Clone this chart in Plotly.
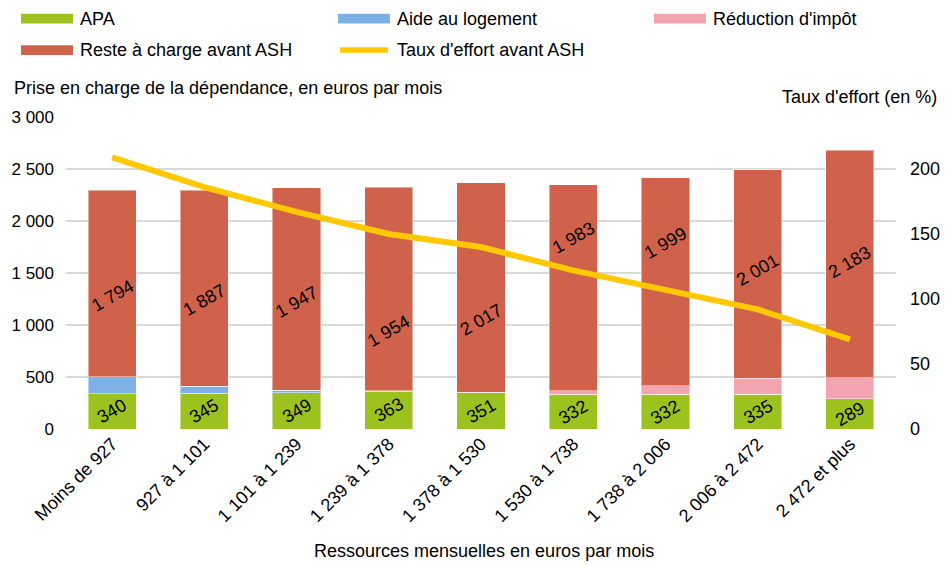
import plotly.graph_objects as go

categories = ["Moins de 927", "927 à 1 101", "1 101 à 1 239", "1 239 à 1 378",
              "1 378 à 1 530", "1 530 à 1 738", "1 738 à 2 006", "2 006 à 2 472",
              "2 472 et plus"]
apa = [340, 345, 349, 363, 351, 332, 332, 335, 289]
aide_logement = [162, 65, 25, 7, 0, 0, 0, 0, 0]
reduction_impot = [0, 0, 0, 0, 2, 35, 83, 155, 206]
reste_charge = [1794, 1887, 1947, 1954, 2017, 1983, 1999, 2001, 2183]
taux_effort = [209, 186, 167, 150, 140, 122, 107, 92, 69]

series_names = ["APA", "Aide au logement", "Réduction d'impôt",
                "Reste à charge avant ASH", "Taux d'effort avant ASH"]
left_ticks = [0, 500, 1000, 1500, 2000, 2500, 3000]
right_ticks = [0, 50, 100, 150, 200]

# label vertical nudges (px) for the "reste à charge" labels, as placed in the source
reste_label_shift = [-12, -12, -13, -42, -33, 50, 39, 4, 2]

C_APA = "#9BC21F"
C_AIDE = "#7DB1E6"
C_RED = "#F4A3B0"
C_RESTE = "#D0614B"
C_LINE = "#FFC800"
GRID = "#D9D9D9"
FONT = "Liberation Sans, Arial, sans-serif"
FS = 18

# the page body adds an 8 px offset; work in screen pixels and shift
OFF = 8
W, H = 951 - OFF, 566 - OFF
L, R, T, B = 66, 896, 116.5, 429  # plot area in screen pixels


def xp(px):
    return (px - L) / (R - L)


def yp(py):
    return (B - py) / (B - T)


def fmt(v):
    return f"{v:,}".replace(",", " ")


fig = go.Figure()
edge = dict(color="rgba(255,255,255,0.45)", width=1)
for name, vals, col in [(series_names[0], apa, C_APA),
                        (series_names[1], aide_logement, C_AIDE),
                        (series_names[2], reduction_impot, C_RED),
                        (series_names[3], reste_charge, C_RESTE)]:
    fig.add_trace(go.Bar(x=categories, y=vals, name=name, marker=dict(color=col, line=edge),
                         showlegend=False, yaxis="y"))

fig.add_trace(go.Scatter(x=categories, y=taux_effort, name=series_names[4], mode="lines",
                         line=dict(color=C_LINE, width=6), yaxis="y2", showlegend=False))

annotations = []
for i, c in enumerate(categories):
    annotations.append(dict(x=c, y=apa[i] / 2, xref="x", yref="y", text=fmt(apa[i]),
                            showarrow=False, textangle=-30,
                            font=dict(family=FONT, size=FS, color="black")))
    base = apa[i] + aide_logement[i] + reduction_impot[i]
    annotations.append(dict(x=c, y=base + reste_charge[i] / 2, xref="x", yref="y",
                            text=fmt(reste_charge[i]), showarrow=False, textangle=-30,
                            yshift=reste_label_shift[i],
                            font=dict(family=FONT, size=FS, color="black")))

# titles
annotations.append(dict(x=xp(12), y=yp(87), xref="paper", yref="paper", xanchor="left",
                        yanchor="middle", showarrow=False,
                        text="Prise en charge de la dépendance, en euros par mois",
                        font=dict(family=FONT, size=FS, color="black")))
annotations.append(dict(x=xp(939), y=yp(96), xref="paper", yref="paper", xanchor="right",
                        yanchor="middle", showarrow=False, text="Taux d'effort (en %)",
                        font=dict(family=FONT, size=FS, color="black")))
annotations.append(dict(x=xp(484), y=yp(551), xref="paper", yref="paper", xanchor="center",
                        yanchor="middle", showarrow=False,
                        text="Ressources mensuelles en euros par mois",
                        font=dict(family=FONT, size=FS, color="black")))

# custom legend
shapes = []
legend_items = [
    (series_names[0], C_APA, 21, 18, "rect"),
    (series_names[1], C_AIDE, 338, 18, "rect"),
    (series_names[2], C_RED, 654, 18, "rect"),
    (series_names[3], C_RESTE, 21, 49.5, "rect"),
    (series_names[4], C_LINE, 338, 49.5, "line"),
]
for name, col, x0, yc, kind in legend_items:
    if kind == "rect":
        shapes.append(dict(type="rect", xref="paper", yref="paper", x0=xp(x0), x1=xp(x0 + 52),
                           y0=yp(yc + 4.8), y1=yp(yc - 4.8), fillcolor=col, line=dict(width=0)))
    else:
        shapes.append(dict(type="line", xref="paper", yref="paper", x0=xp(x0 + 2), x1=xp(x0 + 50),
                           y0=yp(yc), y1=yp(yc), line=dict(color=col, width=5.5)))
    annotations.append(dict(x=xp(x0 + 57), y=yp(yc), xref="paper", yref="paper",
                            xanchor="left", yanchor="middle", showarrow=False, text=name,
                            font=dict(family=FONT, size=FS, color="black")))

fig.update_layout(
    width=W, height=H,
    margin=dict(l=L - OFF, r=951 - R, t=T - OFF, b=566 - B, pad=0, autoexpand=False),
    paper_bgcolor="white", plot_bgcolor="white",
    barmode="stack", bargap=0.478,
    separators=", ",
    showlegend=False,
    font=dict(family=FONT, size=FS, color="black"),
    xaxis=dict(tickangle=-45, showgrid=False, showline=False, zeroline=False, automargin=False,
               tickfont=dict(family=FONT, size=FS, color="black"), ticks=""),
    yaxis=dict(range=[0, 3000], tickvals=left_ticks, tickformat=",d", showgrid=True,
               gridcolor=GRID, gridwidth=1.5, zeroline=False, showline=False, ticks="",
               automargin=False,
               ticklabelstandoff=11, tickfont=dict(family=FONT, size=17, color="black")),
    yaxis2=dict(range=[0, 240], tickvals=right_ticks, overlaying="y", side="right",
                showgrid=False, zeroline=False, showline=False, ticks="", automargin=False,
                ticklabelstandoff=13, tickfont=dict(family=FONT, size=FS, color="black")),
    annotations=annotations,
    shapes=shapes,
)

fig.write_html("out.html")
